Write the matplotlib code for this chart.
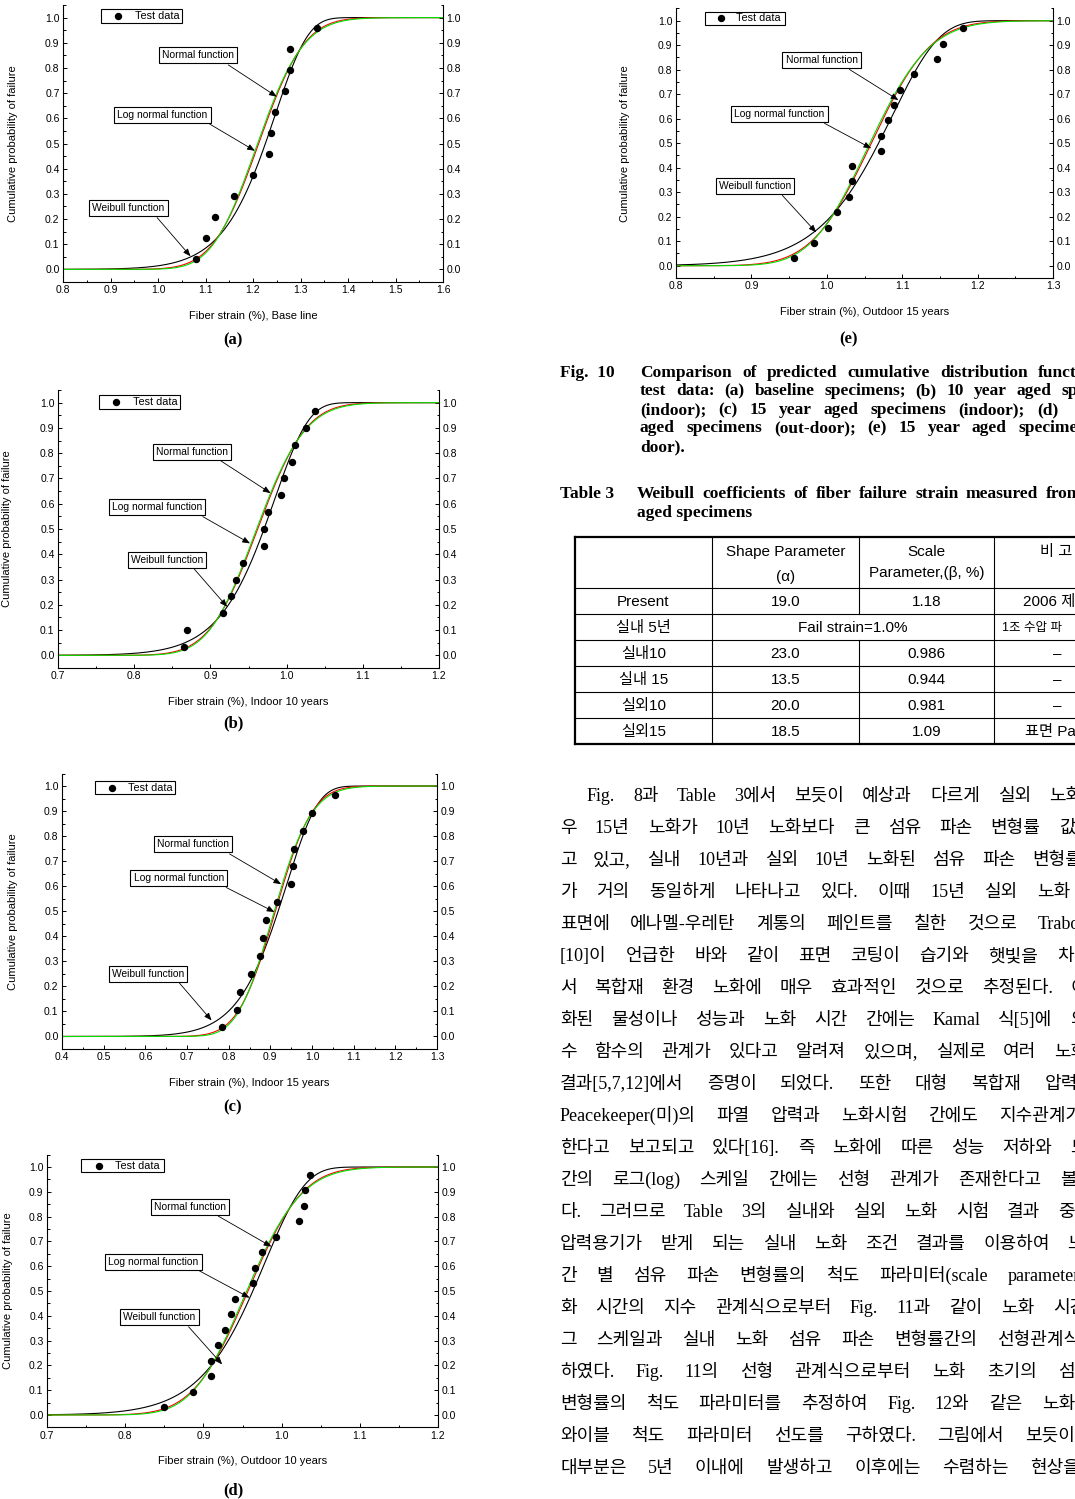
import math
import numpy as np
import matplotlib
matplotlib.use("Agg")
import matplotlib.pyplot as plt
from matplotlib.patches import Rectangle, Shadow
from matplotlib.ticker import MultipleLocator, FormatStrFormatter

W, H = 1075, 1499
plt.rcParams["font.family"] = ["Liberation Sans", "DejaVu Sans"]
SERIF = ["Liberation Serif", "Noto Sans CJK KR"]
SANS_KR = ["Liberation Sans", "Noto Sans CJK KR"]

# ---------------- data ----------------
panel_ids = ["a", "b", "c", "d", "e"]
xlabels = ["Fiber strain (%), Base line", "Fiber strain (%), Indoor 10 years",
           "Fiber strain (%), Indoor 15 years", "Fiber strain (%), Outdoor 10 years",
           "Fiber strain (%), Outdoor 15 years"]
xlims = [(0.8, 1.6), (0.7, 1.2), (0.4, 1.3), (0.7, 1.2), (0.8, 1.3)]

strain_a = [1.080, 1.100, 1.120, 1.160, 1.200, 1.234, 1.237, 1.246, 1.268, 1.278, 1.278, 1.335]
prob_a = [0.042, 0.125, 0.208, 0.292, 0.375, 0.458, 0.542, 0.625, 0.708, 0.792, 0.875, 0.958]
strain_b = [0.866, 0.869, 0.917, 0.927, 0.933, 0.943, 0.970, 0.970, 0.975, 0.993,
            0.996, 1.007, 1.011, 1.026, 1.037]
prob_b = [0.033, 0.100, 0.167, 0.233, 0.300, 0.367, 0.433, 0.500, 0.567, 0.633,
          0.700, 0.767, 0.833, 0.900, 0.967]
strain_c = [0.785, 0.821, 0.826, 0.854, 0.874, 0.882, 0.889, 0.916, 0.949, 0.955,
            0.956, 0.979, 0.999, 1.054]
prob_c = [0.036, 0.107, 0.179, 0.250, 0.321, 0.393, 0.464, 0.536, 0.607, 0.679,
          0.750, 0.821, 0.893, 0.964]
strain_d = [0.850, 0.887, 0.910, 0.910, 0.919, 0.928, 0.935, 0.941, 0.964, 0.966,
            0.975, 0.993, 1.022, 1.029, 1.030, 1.036]
prob_d = [0.031, 0.094, 0.156, 0.219, 0.281, 0.344, 0.406, 0.469, 0.531, 0.594,
          0.656, 0.719, 0.781, 0.844, 0.906, 0.969]
strain_e = [0.957, 0.983, 1.001, 1.013, 1.030, 1.034, 1.034, 1.072, 1.072, 1.081,
            1.089, 1.097, 1.116, 1.146, 1.154, 1.181]
prob_e = [0.031, 0.094, 0.156, 0.219, 0.281, 0.344, 0.406, 0.469, 0.531, 0.594,
          0.656, 0.719, 0.781, 0.844, 0.906, 0.969]
strains = [strain_a, strain_b, strain_c, strain_d, strain_e]
probs = [prob_a, prob_b, prob_c, prob_d, prob_e]

# fitted distribution parameters (per panel)
weibull_shape = [19.0, 23.0, 13.5, 20.0, 18.5]
weibull_scale = [1.25, 0.986, 0.944, 0.981, 1.09]
normal_mean = [1.212, 0.962, 0.912, 0.957, 1.059]
normal_sd = [0.076, 0.050, 0.070, 0.055, 0.062]
lognorm_mu = [0.1903, -0.0401, -0.0951, -0.0456, 0.0556]
lognorm_sigma = [0.0626, 0.0520, 0.0767, 0.0574, 0.0585]

# Table 3
tbl_rows = ["Present", "실내 5년", "실내10", "실내 15", "실외10", "실외15"]
tbl_shape = ["19.0", None, "23.0", "13.5", "20.0", "18.5"]
tbl_scale = ["1.18", None, "0.986", "0.944", "0.981", "1.09"]
tbl_note = ["2006 제", "1조 수압 파", "–", "–", "–", "표면 Pa"]
tbl_merged = "Fail strain=1.0%"

# ---------------- layout (pixels) ----------------
axes_px = [(63, 443, 5, 282), (58, 439, 390, 668), (62, 437, 773.5, 1049),
           (47, 438, 1154.6, 1427.4), (676, 1053, 8.4, 278)]
ylabel_px = [18, 12, 18, 13, 630]
sub_px = [(233, 340), (233, 723), (233, 1107), (233, 1490), (848, 339)]
# legend box: x0, x1, ybot, ytop, marker x, text x (data coords)
legend_box = [(0.881, 1.051, 0.977, 1.033, 0.916, 0.951),
              (0.754, 0.860, 0.976, 1.032, 0.776, 0.798),
              (0.480, 0.670, 0.967, 1.021, 0.520, 0.558),
              (0.744, 0.850, 0.978, 1.032, 0.766, 0.787),
              (0.838, 0.944, 0.982, 1.037, 0.860, 0.880)]
ann_labels = ["Normal function", "Log normal function", "Weibull function"]
# (text centre, arrow start, arrow end) in data coords
ann_pos = [
    [((1.084, 0.850), (1.148, 0.812), (1.250, 0.686)),
     ((1.0095, 0.614), (1.109, 0.577), (1.204, 0.471)),
     ((0.938, 0.243), (0.998, 0.206), (1.0685, 0.052))],
    [((0.876, 0.806), (0.914, 0.769), (0.979, 0.642)),
     ((0.830, 0.586), (0.890, 0.549), (0.952, 0.443)),
     ((0.843, 0.378), (0.879, 0.341), (0.922, 0.192))],
    [((0.714, 0.767), (0.802, 0.729), (0.926, 0.608)),
     ((0.680, 0.632), (0.794, 0.595), (0.910, 0.497)),
     ((0.606, 0.248), (0.682, 0.213), (0.759, 0.064))],
    [((0.883, 0.839), (0.919, 0.802), (0.987, 0.679)),
     ((0.836, 0.618), (0.895, 0.581), (0.959, 0.473)),
     ((0.844, 0.394), (0.881, 0.356), (0.924, 0.204))],
    [((0.993, 0.838), (1.030, 0.801), (1.095, 0.676)),
     ((0.937, 0.619), (0.997, 0.581), (1.059, 0.479)),
     ((0.905, 0.324), (0.941, 0.287), (0.986, 0.136))],
]


def wb_cdf(x, k, s):
    return 1 - np.exp(-(x / s) ** k)


def norm_cdf(x, m, sd):
    z = (np.asarray(x) - m) / (sd * math.sqrt(2))
    return 0.5 * (1 + np.array([math.erf(v) for v in z]))


def lognorm_cdf(x, mu, sig):
    return norm_cdf(np.log(x), mu, sig)


fig = plt.figure(figsize=(W / 100, H / 100), dpi=100)
page = fig.add_axes([0, 0, 1, 1])
page.set_xlim(0, W); page.set_ylim(H, 0); page.axis("off")

for i in range(5):
    l, r, t, b = axes_px[i]
    ax = fig.add_axes([l / W, 1 - b / H, (r - l) / W, (b - t) / H])
    xs = np.linspace(xlims[i][0], xlims[i][1], 600)
    ax.plot(xs, wb_cdf(xs, weibull_shape[i], weibull_scale[i]), color="k", lw=0.8)
    ax.plot(xs, norm_cdf(xs, normal_mean[i], normal_sd[i]), color="#ff0000", lw=0.8)
    ax.plot(xs, lognorm_cdf(xs, lognorm_mu[i], lognorm_sigma[i]), color="#00e000", lw=0.8)
    ax.plot(strains[i], probs[i], "o", color="k", ms=4.3, zorder=5)
    ax.set_xlim(*xlims[i]); ax.set_ylim(-0.05, 1.05)
    ax.spines["top"].set_visible(False)
    for s in ["left", "right", "bottom"]:
        ax.spines[s].set_linewidth(0.8)
    ax.xaxis.set_major_locator(MultipleLocator(0.1))
    ax.xaxis.set_minor_locator(MultipleLocator(0.05))
    ax.yaxis.set_major_locator(MultipleLocator(0.1))
    ax.yaxis.set_minor_locator(MultipleLocator(0.05))
    ax.xaxis.set_major_formatter(FormatStrFormatter("%.1f"))
    ax.yaxis.set_major_formatter(FormatStrFormatter("%.1f"))
    ax.tick_params(which="both", direction="in", top=False, right=True,
                   labelright=True, labelsize=7.5, pad=2.5, width=0.7)
    ax.tick_params(which="major", length=3)
    ax.tick_params(which="minor", length=1.8)
    ax.set_ylabel("Cumulative probability of failure", fontsize=8)
    ax.set_xlabel(xlabels[i], fontsize=8)
    ax.yaxis.set_label_coords((ylabel_px[i] - l) / (r - l), 0.5)
    ax.xaxis.set_label_coords(0.5, -29 / (b - t))

    # legend box with solid shadow
    x0, x1, y0, y1, mx, tx = legend_box[i]
    rect = Rectangle((x0, y0), x1 - x0, y1 - y0, fc="white", ec="k", lw=0.8, zorder=7)
    ax.add_patch(rect)
    ax.add_patch(Shadow(rect, 3.6, -4.3, facecolor="k", edgecolor="k", alpha=1, zorder=6))
    ax.plot([mx], [(y0 + y1) / 2], "o", color="k", ms=4.3, zorder=8)
    ax.text(tx, (y0 + y1) / 2, "Test data", fontsize=7.8, ha="left", va="center", zorder=8)

    for lab, (tc, st, en) in zip(ann_labels, ann_pos[i]):
        ax.text(tc[0], tc[1], lab, fontsize=7.4, ha="center", va="center", zorder=7,
                bbox=dict(boxstyle="square,pad=0.3", fc="white", ec="k", lw=0.8))
        ax.annotate("", xy=en, xytext=st, zorder=7,
                    arrowprops=dict(arrowstyle="-|>,head_length=0.45,head_width=0.18",
                                    color="k", lw=0.6, shrinkA=0, shrinkB=0))

    page.text(sub_px[i][0], sub_px[i][1], "(%s)" % panel_ids[i], fontsize=12,
              fontweight="bold", family="Liberation Serif", ha="center", va="center")

renderer = fig.canvas.get_renderer()


def justify(words, x0, x1, y, **kw):
    ts = [page.text(0, y, w, ha="left", va="baseline", **kw) for w in words.split()]
    widths = [t.get_window_extent(renderer).width for t in ts]
    gap = (x1 - x0 - sum(widths)) / max(len(ts) - 1, 1)
    x = x0
    for t, w in zip(ts, widths):
        t.set_x(x)
        x += w + gap


# ---------------- figure caption ----------------
capkw = dict(fontsize=12.5, fontweight="bold", family="Liberation Serif")
page.text(560, 377, "Fig.  10", ha="left", va="baseline", **capkw)
cap_lines = [("Comparison of predicted cumulative distribution funct", 1077, 372),
             ("test data: (a) baseline specimens; (b) 10 year aged sp", 1078, 390),
             ("(indoor); (c) 15 year aged specimens (indoor); (d)", 1058, 409),
             ("aged specimens (out-door); (e) 15 year aged specime", 1078, 427)]
for txt, xr, yc in cap_lines:
    justify(txt, 640, xr, yc + 5, **capkw)
page.text(640, 451, "door).", ha="left", va="baseline", **capkw)

page.text(560, 498, "Table 3", ha="left", va="baseline", **capkw)
justify("Weibull coefficients of fiber failure strain measured from", 637, 1082, 498, **capkw)
page.text(637, 517, "aged specimens", ha="left", va="baseline", **capkw)

# ---------------- table ----------------
col_x = [575, 712, 859, 994, 1130]
row_y = [537, 588, 614, 640, 666, 692, 718, 744]
for k, y in enumerate(row_y):
    page.plot([col_x[0], col_x[-1]], [y, y], color="k",
              lw=1.6 if k in (0, len(row_y) - 1) else 0.8)
page.plot([col_x[0], col_x[0]], [row_y[0], row_y[-1]], color="k", lw=1.6)
for cx in (col_x[1], col_x[3]):
    page.plot([cx, cx], [row_y[0], row_y[-1]], color="k", lw=0.8)
page.plot([col_x[2], col_x[2]], [row_y[0], row_y[2]], color="k", lw=0.8)
page.plot([col_x[2], col_x[2]], [row_y[3], row_y[-1]], color="k", lw=0.8)

tkw = dict(fontsize=11, family=SANS_KR, ha="center", va="center")
c1, c2, c3 = [(col_x[j] + col_x[j + 1]) / 2 for j in range(3)]
page.text(c2, 552, "Shape Parameter", **tkw)
page.text(c2, 577, "(α)", **tkw)
page.text(c3, 552, "Scale", **tkw)
page.text(c3, 573, "Parameter,(β, %)", **tkw)
page.text(1040, 552, "비 고", fontsize=11, family=SANS_KR, ha="left", va="center")
for k in range(len(tbl_rows)):
    yc = (row_y[k + 1] + row_y[k + 2]) / 2 + 1
    page.text(c1, yc, tbl_rows[k], **tkw)
    if tbl_shape[k] is None:
        page.text((col_x[1] + col_x[3]) / 2, yc, tbl_merged, **tkw)
    else:
        page.text(c2, yc, tbl_shape[k], **tkw)
        page.text(c3, yc, tbl_scale[k], **tkw)
    note = tbl_note[k]
    if note == "–":
        page.text(1057, yc, note, **tkw)
    elif k == 1:
        page.text(1002, yc, note, fontsize=9, family=SANS_KR, ha="left", va="center")
    else:
        page.text(1023 if k == 0 else 1025, yc, note, fontsize=11, family=SANS_KR,
                  ha="left", va="center")

# ---------------- body text ----------------
para = [
    ("Fig. 8과 Table 3에서 보듯이 예상과 다르게 실외 노화", 587, 1082),
    ("우 15년 노화가 10년 노화보다 큰 섬유 파손 변형률 값을", 560, 1092),
    ("고 있고, 실내 10년과 실외 10년 노화된 섬유 파손 변형률", 560, 1082),
    ("가 거의 동일하게 나타나고 있다. 이때 15년 실외 노화", 560, 1070),
    ("표면에 에나멜-우레탄 계통의 페인트를 칠한 것으로 Trabo", 560, 1080),
    ("[10]이 언급한 바와 같이 표면 코팅이 습기와 햇빛을 차단", 560, 1090),
    ("서 복합재 환경 노화에 매우 효과적인 것으로 추정된다. 이", 560, 1087),
    ("화된 물성이나 성능과 노화 시간 간에는 Kamal 식[5]에 의", 560, 1087),
    ("수 함수의 관계가 있다고 알려져 있으며, 실제로 여러 노화", 560, 1087),
    ("결과[5,7,12]에서 증명이 되었다. 또한 대형 복합재 압력", 560, 1078),
    ("Peacekeeper(미)의 파열 압력과 노화시험 간에도 지수관계가", 560, 1082),
    ("한다고 보고되고 있다[16]. 즉 노화에 따른 성능 저하와 노", 560, 1087),
    ("간의 로그(log) 스케일 간에는 선형 관계가 존재한다고 볼", 560, 1077),
    ("다. 그러므로 Table 3의 실내와 실외 노화 시험 결과 중", 560, 1075),
    ("압력용기가 받게 되는 실내 노화 조건 결과를 이용하여 노", 560, 1084),
    ("간 별 섬유 파손 변형률의 척도 파라미터(scale parameter", 560, 1080),
    ("화 시간의 지수 관계식으로부터 Fig. 11과 같이 노화 시간", 560, 1086),
    ("그 스케일과 실내 노화 섬유 파손 변형률간의 선형관계식", 560, 1080),
    ("하였다. Fig. 11의 선형 관계식으로부터 노화 초기의 섬유", 560, 1091),
    ("변형률의 척도 파라미터를 추정하여 Fig. 12와 같은 노화", 560, 1075),
    ("와이블 척도 파라미터 선도를 구하였다. 그림에서 보듯이", 560, 1075),
    ("대부분은 5년 이내에 발생하고 이후에는 수렴하는 현상을", 560, 1080),
]
for k, (txt, xl, xr) in enumerate(para):
    justify(txt, xl, xr, 795 + 32 * k + 6, fontsize=13, family=SERIF)

fig.savefig("out.png", dpi=100)
